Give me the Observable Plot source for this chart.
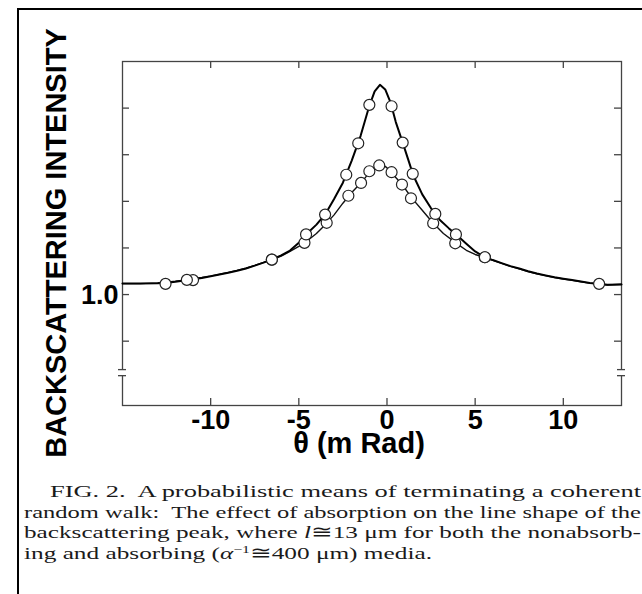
<!DOCTYPE html>
<html>
<head>
<meta charset="utf-8">
<script src="https://cdn.jsdelivr.net/npm/d3@7"></script>
<script src="https://cdn.jsdelivr.net/npm/@observablehq/plot@0.6"></script>
<style>
  html, body { margin: 0; padding: 0; background: #fff; overflow: hidden; }
  #page { position: relative; width: 642px; height: 594px; overflow: hidden; background: #fff; }
  #chart { position: absolute; left: 0; top: 0; }
  #border { position: absolute; left: 17px; top: 8px; width: 800px; height: 800px;
            border-left: 2.5px solid #000; border-top: 2.5px solid #000; pointer-events: none; }
  #caption { position: absolute; left: 24px; top: 481px; width: 620px;
             font-family: "Liberation Serif", "Times New Roman", serif; font-size: 17.5px;
             line-height: 20.5px; color: #1a1a1a; }
  #caption .l { white-space: nowrap; height: 20.5px; }
  #caption .m { display: inline-block; transform-origin: 0 50%; }
  #caption sup { font-size: 0.62em; vertical-align: 0.6em; line-height: 0; }
</style>
</head>
<body>
<div id="page">
  <div id="chart"></div>
  <div id="border"></div>
  <div id="caption">
    <div class="l" style="padding-left:26px"><span class="m">FIG. 2.&nbsp; A probabilistic means of terminating a coherent</span></div>
    <div class="l"><span class="m">random walk:&nbsp; The effect of absorption on the line shape of the</span></div>
    <div class="l"><span class="m">backscattering peak, where <i>l</i>&#x2245;13 &#x3bc;m for both the nonabsorb-</span></div>
    <div class="l"><span class="m">ing and absorbing (<i>&#x3b1;</i><sup>&#x2212;1</sup>&#x2245;400 &#x3bc;m) media.</span></div>
  </div>
</div>
<script>
// ---------- data ----------
const xTickValues = [-10, -5, 0, 5, 10];
const xTickLabels = ["-10", "-5", "0", "5", "10"];
const yTickValues = [0.8, 1.0, 1.2, 1.4, 1.6, 1.8];
const yLabelValues = [1.0];
const yLabelTexts = ["1.0"];
const axisBreakValues = [0.652, 0.678];

const xAxisTitle = "\u03b8 (m Rad)";
const yAxisTitle = "BACKSCATTERING INTENSITY";

// nonabsorbing medium (measured, sharper peak)
const thetaNonabs = [-15, -14, -13, -12.5, -12, -11.5, -11, -10.5, -10, -9.5, -9, -8.5, -8, -7.5, -7, -6.5, -6, -5.5, -5, -4.5, -4, -3.5, -3, -2.5, -2, -1.5, -1.0, -0.7, -0.4, -0.1, 0.2, 0.5, 0.9, 1.2, 1.5, 2.0, 2.5, 3.0, 3.5, 4.0, 4.5, 5.0, 5.5, 6.0, 6.5, 7.0, 7.5, 8.0, 8.5, 9.0, 9.5, 10.0, 10.5, 11.0, 11.5, 12.0, 12.5, 13.3];
const intensityNonabs = [1.048, 1.048, 1.049, 1.051, 1.055, 1.060, 1.066, 1.071, 1.078, 1.086, 1.094, 1.102, 1.112, 1.124, 1.137, 1.152, 1.168, 1.189, 1.222, 1.264, 1.300, 1.345, 1.410, 1.480, 1.575, 1.680, 1.810, 1.872, 1.900, 1.880, 1.825, 1.740, 1.650, 1.580, 1.510, 1.430, 1.370, 1.320, 1.285, 1.252, 1.218, 1.185, 1.162, 1.148, 1.135, 1.122, 1.112, 1.100, 1.090, 1.082, 1.074, 1.068, 1.062, 1.056, 1.050, 1.046, 1.042, 1.043];

// absorbing medium (measured, lower rounded peak)
const thetaAbs = [-15, -14, -13, -12.5, -12, -11.5, -11, -10.5, -10, -9.5, -9, -8.5, -8, -7.5, -7, -6.5, -6, -5.5, -5, -4.5, -4, -3.5, -3, -2.5, -2, -1.5, -1.0, -0.7, -0.4, -0.1, 0.2, 0.5, 0.9, 1.4, 2.0, 2.6, 3.2, 3.9, 4.5, 5.0, 5.5, 6.0, 6.5, 7.0, 7.5, 8.0, 8.5, 9.0, 9.5, 10.0, 10.5, 11.0, 11.5, 12.0, 12.5, 13.3];
const intensityAbs = [1.047, 1.047, 1.050, 1.053, 1.057, 1.062, 1.068, 1.073, 1.080, 1.087, 1.095, 1.104, 1.113, 1.125, 1.138, 1.150, 1.165, 1.185, 1.207, 1.232, 1.262, 1.300, 1.342, 1.392, 1.438, 1.478, 1.522, 1.545, 1.555, 1.550, 1.530, 1.502, 1.468, 1.415, 1.362, 1.308, 1.262, 1.222, 1.190, 1.172, 1.160, 1.147, 1.134, 1.121, 1.110, 1.099, 1.089, 1.081, 1.073, 1.067, 1.061, 1.055, 1.049, 1.045, 1.041, 1.044];

// theory points (open circles)
const circleThetaNonabs = [-12.56, -11.35, -6.53, -4.59, -3.51, -2.31, -1.63, -1.0, 0.26, 0.89, 1.46, 2.74, 3.91, 5.55, 12.03];
const circleIntNonabs   = [1.046, 1.063, 1.150, 1.258, 1.343, 1.514, 1.649, 1.814, 1.808, 1.652, 1.518, 1.346, 1.258, 1.160, 1.046];
const circleThetaAbs = [-11.0, -6.53, -4.68, -3.42, -2.19, -1.47, -1.0, -0.44, 0.26, 0.85, 1.36, 2.62, 3.87, 5.55];
const circleIntAbs   = [1.062, 1.150, 1.222, 1.308, 1.424, 1.479, 1.529, 1.554, 1.525, 1.472, 1.413, 1.306, 1.220, 1.160];

// ---------- layout ----------
const xDomain = [-15, 13.3];
const yDomain = [0.524, 2.0];
const W = 642, H = 470, mL = 122, mR = 21, mT = 61, mB = 65;
const innerW = W - mL - mR, innerH = H - mT - mB;
const tickLen = 7;
const axisColor = "#444";

const nonabs = thetaNonabs.map((t, i) => ({theta: t, v: intensityNonabs[i]}));
const abs = thetaAbs.map((t, i) => ({theta: t, v: intensityAbs[i]}));
const cNonabs = circleThetaNonabs.map((t, i) => ({theta: t, v: circleIntNonabs[i]}));
const cAbs = circleThetaAbs.map((t, i) => ({theta: t, v: circleIntAbs[i]}));

const bold = {fontFamily: "Liberation Sans, Arial, sans-serif", fontWeight: "bold", fill: "#000"};

const chart = Plot.plot({
  width: W, height: H,
  marginLeft: mL, marginRight: mR, marginTop: mT, marginBottom: mB,
  x: {domain: xDomain, axis: null},
  y: {domain: yDomain, axis: null},
  style: {background: "transparent", overflow: "visible", fontFamily: "Liberation Sans, Arial, sans-serif"},
  marks: [
    Plot.frame({stroke: axisColor, strokeWidth: 1.3}),
    // inward ticks on all four sides
    Plot.tickX(xTickValues, {x: d => d, insetTop: innerH - tickLen, stroke: axisColor, strokeWidth: 1.3}),
    Plot.tickX(xTickValues, {x: d => d, insetBottom: innerH - tickLen, stroke: axisColor, strokeWidth: 1.3}),
    Plot.tickY(yTickValues, {y: d => d, insetRight: innerW - tickLen, stroke: axisColor, strokeWidth: 1.3}),
    Plot.tickY(yTickValues, {y: d => d, insetLeft: innerW - tickLen, stroke: axisColor, strokeWidth: 1.3}),
    // axis breaks on the left and right axes
    Plot.ruleX([xDomain[0], xDomain[1]], {x: d => d, y1: axisBreakValues[0], y2: axisBreakValues[1], stroke: "#fff", strokeWidth: 4}),
    Plot.tickY(axisBreakValues, {y: d => d, insetRight: innerW - 8, dx: -4, stroke: axisColor, strokeWidth: 1.3}),
    Plot.tickY(axisBreakValues, {y: d => d, insetLeft: innerW - 8, dx: 4, stroke: axisColor, strokeWidth: 1.3}),
    // curves
    Plot.line(abs, {x: "theta", y: "v", stroke: "#111", strokeWidth: 1.4, curve: "linear"}),
    Plot.line(nonabs, {x: "theta", y: "v", stroke: "#000", strokeWidth: 2, curve: "linear"}),
    Plot.dot(cAbs, {x: "theta", y: "v", r: 5.5, fill: "#fff", stroke: "#222", strokeWidth: 1.2}),
    Plot.dot(cNonabs, {x: "theta", y: "v", r: 5.5, fill: "#fff", stroke: "#222", strokeWidth: 1.2}),
    // tick labels
    Plot.text(xTickValues, {x: d => d, y: yDomain[0], text: (d, i) => xTickLabels[i], dy: 15, lineAnchor: "middle", fontSize: 27, ...bold}),
    Plot.text(yLabelValues, {x: xDomain[0], y: d => d, text: (d, i) => yLabelTexts[i], textAnchor: "end", lineAnchor: "middle", dx: -4, dy: 1, fontSize: 27, ...bold}),
    // axis titles
    Plot.text([xAxisTitle], {frameAnchor: "bottom", text: d => d, textAnchor: "middle", lineAnchor: "middle", dx: -13, dy: 38, fontSize: 29, ...bold}),
    Plot.text([yAxisTitle], {frameAnchor: "left", text: d => d, rotate: -90, textAnchor: "middle", lineAnchor: "middle", dx: -66, dy: 9.5, fontSize: 29, ...bold})
  ]
});
document.getElementById("chart").appendChild(chart);

// ---------- caption: wide scanned typeface, each line stretched to its measured extent ----------
(function fitCaption() {
  const lineTargets = [591, 617, 617, 408];
  const spans = document.querySelectorAll("#caption .m");
  spans.forEach((s, i) => {
    const w = s.getBoundingClientRect().width;
    s.style.transform = `scaleX(${lineTargets[i] / w})`;
  });
})();
</script>
</body>
</html>
